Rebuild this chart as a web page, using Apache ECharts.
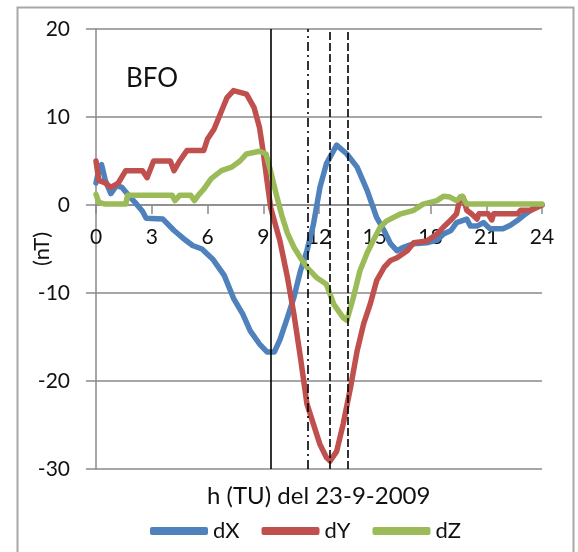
<!DOCTYPE html>
<html>
<head>
<meta charset="utf-8">
<script src="https://cdn.jsdelivr.net/npm/echarts@6/dist/echarts.min.js"></script>
<style>
html,body{margin:0;padding:0;background:#fff;}
#chart{width:578px;height:552px;}
</style>
</head>
<body>
<div id="chart"></div>
<script>
// ---- data (hours UT, nT) ----
const dX = [[0,2.5],[0.1,3.5],[0.3,4.6],[0.5,2.8],[0.8,1.3],[1.1,2.2],[1.4,2],[1.75,1.1],[2.1,0.3],[2.5,-0.7],[2.7,-1.5],[3.6,-1.6],[4.2,-2.9],[4.7,-3.8],[5.2,-4.6],[5.7,-5],[6.3,-6.2],[6.9,-8],[7.4,-10.6],[7.9,-12.4],[8.3,-14.3],[8.8,-15.8],[9.2,-16.7],[9.6,-16.7],[9.9,-15.3],[10.3,-12.8],[10.65,-10.5],[11,-7.5],[11.35,-5.2],[11.7,-2.2],[12.05,2],[12.4,4.7],[12.95,6.8],[13.5,5.8],[14.05,4.3],[14.6,1.6],[14.8,0.4],[15.1,-1.4],[15.5,-2.9],[15.85,-4.4],[16.2,-5.2],[16.55,-4.8],[17.1,-4.4],[17.8,-4.3],[18.35,-4],[18.7,-3.3],[19.1,-2.9],[19.4,-2],[19.95,-1.6],[20.15,-2.4],[20.5,-2.4],[20.85,-2],[21.2,-2.7],[21.9,-2.7],[22.3,-2.3],[22.65,-1.8],[23,-1.2],[23.4,-0.6],[23.7,-0.1],[24,0]];
const dY = [[0,5],[0.15,2.8],[0.5,2.5],[0.8,2],[1.2,2.5],[1.6,3.9],[2.5,3.9],[2.75,3.1],[3.1,5],[4,5],[4.2,3.9],[4.5,5],[4.9,6.2],[5.8,6.2],[6,7.5],[6.35,8.6],[6.7,10.4],[7.05,12.2],[7.4,13],[8.1,12.6],[8.5,11.1],[8.8,8.8],[9.0,6],[9.2,2.8],[9.4,-0.3],[9.9,-4.1],[10.3,-8.2],[10.65,-12.4],[11,-17.3],[11.35,-22.6],[11.7,-24.9],[12.05,-27.2],[12.4,-28.7],[12.6,-29.1],[12.95,-28],[13.3,-24.9],[13.7,-20.7],[14.05,-16.6],[14.4,-13.5],[14.75,-11.3],[15.1,-8.6],[15.5,-7.1],[15.85,-6.3],[16.2,-6],[16.75,-5.2],[17.1,-4.3],[17.8,-4.1],[18.35,-3.3],[18.7,-2.5],[19.05,-1.8],[19.4,-1],[19.6,0.9],[19.75,0.9],[19.95,-0.6],[20.2,-1],[20.5,-1.6],[20.6,-1],[21.1,-1],[21.3,-1.7],[21.4,-1],[22.7,-1],[22.85,-0.6],[23.4,-0.6],[23.7,-0.3],[24,0]];
const dZ = [[0,1.2],[0.15,0.3],[0.5,0.1],[1.6,0.1],[1.7,1.1],[4.1,1.1],[4.25,0.5],[4.5,1.1],[5.1,1.1],[5.3,0.5],[5.5,1.1],[5.8,1.8],[6.2,3],[6.75,3.9],[7.3,4.3],[7.75,5],[8.1,5.8],[8.8,6.1],[9.15,5.8],[9.4,3.8],[9.7,1.2],[10,-1.2],[10.3,-3.2],[10.65,-4.8],[11,-6],[11.4,-7.2],[11.9,-8.3],[12.4,-9],[12.8,-11.3],[13.3,-12.8],[13.5,-13.1],[13.85,-10.5],[14.2,-7.5],[14.6,-5.4],[14.9,-4.1],[15.3,-2.5],[15.65,-1.8],[16.4,-1],[17.1,-0.6],[17.6,0.1],[18.35,0.5],[18.7,1],[19.05,0.9],[19.4,0.5],[19.7,1],[19.95,0.1],[24,0.1]];
const seriesNames = ['dX','dY','dZ'];
const markerHours = [9.38, 11.39, 12.56, 13.54];
const markerKinds = ['solid','dashdot','dashed','dashed'];
const stationLabel = 'BFO';
const xTitle = 'h (TU) del 23-9-2009';
const yTitle = '(nT)';

// ---- chart ----
const FONT = 'Lato, "Liberation Sans", sans-serif';
const GRID = '#8a8a8a';
const TXT = '#111';
const colors = ['#4F81BD','#C0504D','#9BBB59'];
const dashMap = {solid:'solid', dashed:[8,3], dashdot:[9,4,2,4]};

const chart = echarts.init(document.getElementById('chart'), null, {renderer:'canvas'});
const mk = (name, data, color) => ({
  name, type:'line', data, showSymbol:false, symbol:'none',
  lineStyle:{width:5.5, color, join:'round', cap:'round'}, itemStyle:{color},
  z:2
});
chart.setOption({
  animation:false,
  textStyle:{fontFamily:FONT},
  graphic:[
    {type:'rect', left:15, top:5, shape:{x:0,y:0,width:556,height:546}, style:{fill:'none', stroke:'#a8a8a8', lineWidth:2}, z:0},
    {type:'text', x:318.7, y:496, style:{text:xTitle, font:'24px ' + FONT, fill:TXT, align:'center', verticalAlign:'middle'}},
    {type:'text', x:126, y:79, style:{text:stationLabel, font:'26px ' + FONT, fill:TXT, align:'left', verticalAlign:'middle'}}
  ],
  grid:{left:96, right:36, top:29, bottom:83},
  legend:{
    data:seriesNames, left:145, top:515, icon:'roundRect', itemWidth:58, itemHeight:8, itemGap:22,
    textStyle:{fontSize:22, color:TXT, fontFamily:FONT}
  },
  xAxis:{
    type:'value', min:0, max:24, interval:3, position:'bottom',
    axisLine:{show:true, onZero:false, lineStyle:{color:GRID, width:1.5}},
    axisTick:{show:true, length:9, lineStyle:{color:GRID, width:1.5}},
    axisLabel:{fontSize:21, color:TXT, margin:22, fontFamily:FONT},
    splitLine:{show:false}
  },
  yAxis:{
    type:'value', min:-30, max:20, interval:10,
    name:yTitle, nameLocation:'middle', nameRotate:90, nameGap:43, nameMoveOverlap:false,
    nameTextStyle:{fontSize:22, color:TXT, fontFamily:FONT},
    axisLine:{show:true, lineStyle:{color:GRID, width:1.5}},
    axisTick:{show:true, length:10, lineStyle:{color:GRID, width:1.5}},
    axisLabel:{fontSize:21, color:TXT, margin:26, fontFamily:FONT},
    splitLine:{show:true, lineStyle:{color:GRID, width:1.5}}
  },
  series:[
    mk(seriesNames[0], dX, colors[0]),
    mk(seriesNames[1], dY, colors[1]),
    mk(seriesNames[2], dZ, colors[2]),
    {
      name:'markers', type:'line', data:[], z:5,
      markLine:{
        silent:true, symbol:['none','none'], label:{show:false}, animation:false,
        data:markerHours.map((h,i)=>({xAxis:h, lineStyle:{color:'#000', width:1.6, type:dashMap[markerKinds[i]]}}))
      }
    }
  ]
});
// move the x axis onto y = 0, using the library's own y scale
const yMinAxis = chart.getModel().getComponent('yAxis',0).axis.scale.getExtent()[0];
const yZeroPx = chart.convertToPixel({yAxisIndex:0}, 0);
const yBottomPx = chart.convertToPixel({yAxisIndex:0}, yMinAxis);
chart.setOption({xAxis:{offset: -(yBottomPx - yZeroPx)}});
</script>
</body>
</html>
